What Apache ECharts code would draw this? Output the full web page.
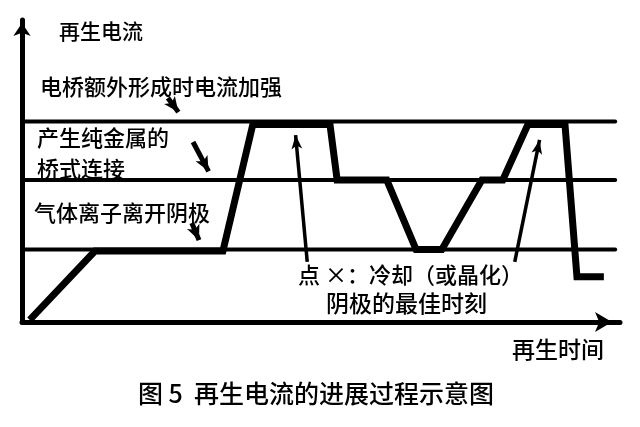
<!DOCTYPE html>
<html>
<head>
<meta charset="utf-8">
<script src="https://cdn.jsdelivr.net/npm/echarts@6/dist/echarts.min.js"></script>
<style>
html,body{margin:0;padding:0;background:#fff;}
#c{width:640px;height:427px;}
</style>
</head>
<body>
<div id="c"></div>
<script>
// Schematic data (time 0..100, current 0..100, arbitrary units)
const curveTime    = [1.3, 12.2, 33.6, 38.6, 51.5, 52.7, 61.0, 65.9, 70.2, 76.9, 80.4, 84.6, 90.8, 92.8, 97.3];
const curveCurrent = [0.7, 23.5, 23.5, 65.4, 65.4, 47.0, 47.0, 24.0, 24.0, 47.0, 47.0, 65.4, 65.4, 15.0, 15.0];
const levelValues  = [24.0, 47.0, 66.4];
const levelEnd     = 99.2;
const arrowFrom    = [[24.4, 74.2], [28.6, 59.6], [28.4, 32.8], [47.7, 19.9], [82.4, 19.9]];
const arrowTo      = [[26.15, 69.5], [31.2, 49.9], [29.6, 27.1], [45.75, 61.9], [86.55, 60.3]];
const yAxisName    = '再生电流';
const xAxisName    = '再生时间';
const captionText  = '图 5  再生电流的进展过程示意图';
const noteTexts    = ['电桥额外形成时电流加强', '产生纯金属的', '桥式连接', '气体离子离开阴极', '点 ×：冷却（或晶化）', '阴极的最佳时刻'];

const FONT = '"Noto Sans CJK SC", "Noto Sans", sans-serif';
const chart = echarts.init(document.getElementById('c'), null, {renderer: 'canvas'});

const mainData = curveTime.map((t, i) => [t, curveCurrent[i]]);
const levelSeries = levelValues.map(v => ({
  type: 'line',
  data: [[0, v], [levelEnd, v]],
  symbol: 'none',
  silent: true,
  lineStyle: {color: '#000', width: 4, cap: 'round'},
  z: 2
}));

const bigArrow = i => i < 3;
const arrowLines = arrowFrom.map((f, i) => {
  const ls = {color: '#000', width: bigArrow(i) ? 5 : 3.5, type: 'solid', opacity: 1};
  const sz = bigArrow(i) ? [10, 15] : [8, 14];
  return [
    {coord: f, symbol: 'none', lineStyle: ls},
    {coord: arrowTo[i], symbol: 'arrow', symbolSize: sz, lineStyle: ls}
  ];
});

function txt(text, x, y, size) {
  return {type: 'text', x: x, y: y, silent: true, z: 10,
    style: {text: text, fill: '#000', fontSize: size, fontWeight: 500, fontFamily: FONT, verticalAlign: 'middle', align: 'left'}};
}

chart.setOption({
  animation: false,
  backgroundColor: '#fff',
  grid: {left: 22, top: 20, width: 598, height: 302, containLabel: false},
  xAxis: {
    type: 'value', min: 0, max: 100,
    axisLine: {show: true, symbol: ['none', 'arrow'], symbolSize: [15, 17], symbolOffset: [0, -8],
      lineStyle: {color: '#000', width: 5}},
    axisTick: {show: false}, axisLabel: {show: false}, splitLine: {show: false}
  },
  yAxis: {
    type: 'value', min: 0, max: 100,
    axisLine: {show: true, symbol: ['none', 'arrow'], symbolSize: [13, 13], symbolOffset: [0, -3],
      lineStyle: {color: '#000', width: 5}},
    axisTick: {show: false}, axisLabel: {show: false}, splitLine: {show: false}
  },
  series: [
    ...levelSeries,
    {
      type: 'line',
      data: mainData,
      symbol: 'none',
      silent: true,
      lineStyle: {color: '#000', width: 7, join: 'miter', cap: 'butt'},
      z: 3,
      markLine: {
        silent: true,
        animation: false,
        symbol: ['none', 'arrow'],
        label: {show: false},
        emphasis: {disabled: true},
        lineStyle: {color: '#000', type: 'solid', width: 3, opacity: 1},
        data: arrowLines
      }
    }
  ],
  graphic: [
    txt(yAxisName, 59, 31, 21),
    txt(noteTexts[0], 40, 87, 22),
    txt(noteTexts[1], 37, 138, 22),
    txt(noteTexts[2], 37, 169, 22),
    txt(noteTexts[3], 34, 213, 22),
    txt(noteTexts[4], 298, 275, 22),
    txt(noteTexts[5], 326, 303, 23),
    txt(xAxisName, 512, 349, 23),
    {type: 'text', x: 316, y: 393, silent: true, z: 10,
      style: {text: captionText, fill: '#000', fontSize: 25, fontWeight: 500, fontFamily: FONT, verticalAlign: 'middle', align: 'center'}}
  ]
});
</script>
</body>
</html>
